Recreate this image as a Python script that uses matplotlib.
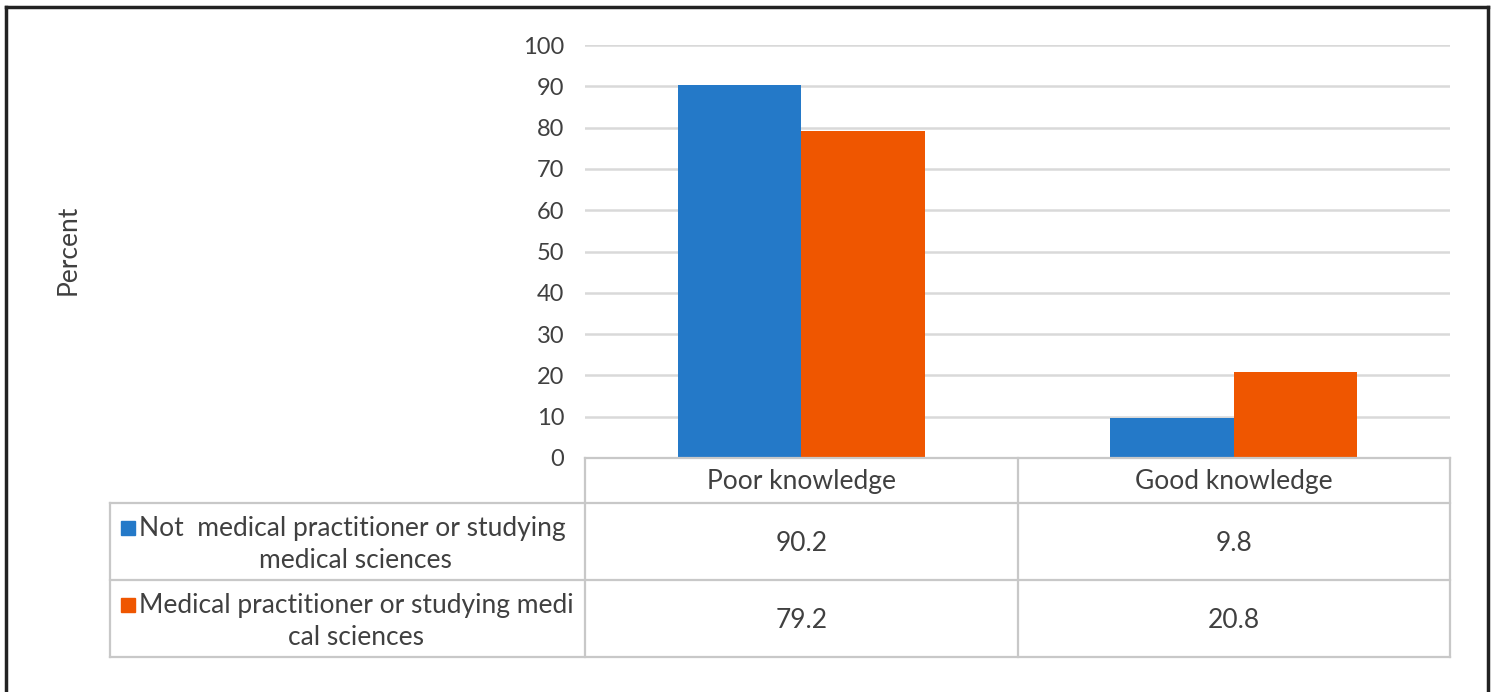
import matplotlib
matplotlib.use("Agg")
import matplotlib.pyplot as plt
import numpy as np
from matplotlib.lines import Line2D
from matplotlib.patches import Rectangle

W, H = 1495, 692

categories = ["Poor knowledge", "Good knowledge"]
series_names = ["Not  medical practitioner or studying\nmedical sciences",
                "Medical practitioner or studying medi\ncal sciences"]
not_medical = [90.2, 9.8]
medical = [79.2, 20.8]
yticks = [0, 10, 20, 30, 40, 50, 60, 70, 80, 90, 100]

BLUE = "#2479c8"
ORANGE = "#ef5600"
GRID = "#d9d9d9"
TABLE = "#c8c8c8"
TXT = "#404040"

plt.rcParams["font.family"] = ["Lato", "DejaVu Sans"]
FS = 17      # tick labels and numbers
FS_T = 19    # words in the table


def fx(x):
    return x / W


def fy(y):
    return 1 - y / H


fig = plt.figure(figsize=(W / 100, H / 100), dpi=100)

# plot area in pixel coords
L, R, T, B = 585, 1450, 45, 458
ax = fig.add_axes([fx(L), fy(B), fx(R) - fx(L), (B - T) / H])
x = np.arange(len(categories))
bw = 0.285
ax.bar(x - bw / 2, not_medical, bw, color=BLUE, zorder=3)
ax.bar(x + bw / 2, medical, bw, color=ORANGE, zorder=3)
ax.set_xlim(-0.5, len(categories) - 0.5)
ax.set_ylim(0, 100)
ax.set_yticks(yticks)
ax.set_yticklabels([str(v) for v in yticks], fontsize=FS, color=TXT)
ax.set_xticks([])
ax.tick_params(axis="y", length=0, pad=15)
ax.grid(axis="y", color=GRID, linewidth=1.8, zorder=0)
for s in ax.spines.values():
    s.set_visible(False)

fig.text(fx(68), fy(250), "Percent", rotation=90, ha="center", va="center",
         fontsize=FS_T, color=TXT)

# data table under the chart
col_edges = [L + i * (R - L) / len(categories) for i in range(len(categories) + 1)]
row_edges = [B, 503, 580, 657]
LEFT = 110


def hline(x0, x1, y):
    fig.add_artist(Line2D([fx(x0), fx(x1)], [fy(y), fy(y)], color=TABLE,
                          linewidth=1.6, transform=fig.transFigure))


def vline(xp, y0, y1):
    fig.add_artist(Line2D([fx(xp), fx(xp)], [fy(y0), fy(y1)], color=TABLE,
                          linewidth=1.6, transform=fig.transFigure))


hline(L, R, row_edges[0])
for y in row_edges[1:]:
    hline(LEFT, R, y)
for xe in col_edges:
    vline(xe, row_edges[0], row_edges[-1])
vline(LEFT, row_edges[1], row_edges[-1])

for i, cat in enumerate(categories):
    cx = (col_edges[i] + col_edges[i + 1]) / 2
    fig.text(fx(cx), fy((row_edges[0] + row_edges[1]) / 2 + 1), cat,
             ha="center", va="center", fontsize=FS_T, color=TXT)

for r, (name, vals, col) in enumerate(zip(series_names, [not_medical, medical],
                                          [BLUE, ORANGE])):
    y0, y1 = row_edges[r + 1], row_edges[r + 2]
    cy = (y0 + y1) / 2
    for i, v in enumerate(vals):
        cx = (col_edges[i] + col_edges[i + 1]) / 2
        fig.text(fx(cx), fy(cy + 2), f"{v:.1f}", ha="center", va="center",
                 fontsize=FS_T, color=TXT)
    first, second = name.split("\n")
    fig.add_artist(Rectangle((fx(121), fy(cy - 7)), 14 / W, 14 / H,
                             color=col, transform=fig.transFigure))
    fig.text(fx(139), fy(cy - 13), first, ha="left", va="center",
             fontsize=FS_T, color=TXT)
    fig.text(fx((LEFT + L) / 2 + 8), fy(cy + 19), second, ha="center",
             va="center", fontsize=FS_T, color=TXT)

# outer frame
for xs, ys in [([6, 1488], [7, 7]), ([6, 6], [7, H + 5]), ([1488, 1488], [7, H + 5])]:
    fig.add_artist(Line2D([fx(v) for v in xs], [fy(v) for v in ys],
                          color="#222222", linewidth=2.5,
                          transform=fig.transFigure))

fig.savefig("out.png", dpi=100)
